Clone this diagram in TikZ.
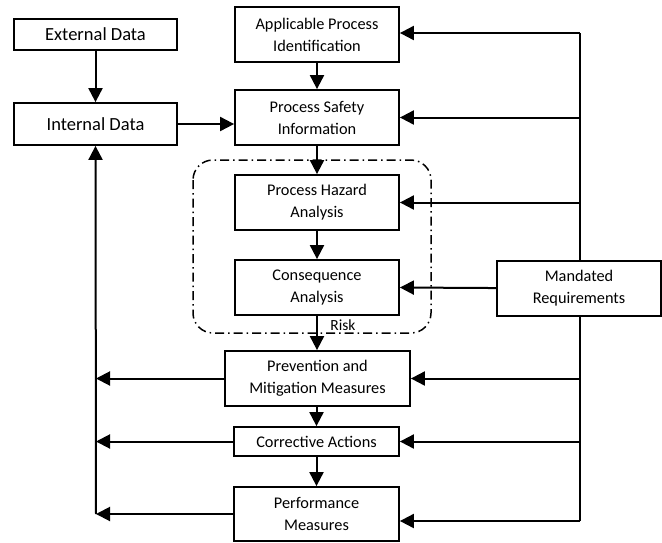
\documentclass[tikz,border=0pt]{standalone}
\usepackage{fontspec}
\setmainfont{Carlito}
\usetikzlibrary{arrows.meta,calc,positioning}

\begin{document}
\begin{tikzpicture}[
      x=1pt, y=-1pt,
      box/.style={draw, line width=1.8pt, align=center, inner sep=0pt, font=\fontsize{16.3}{22}\selectfont},
      bigbox/.style={box, font=\fontsize{18.5}{22}\selectfont},
      link/.style={line width=2pt, -{Triangle[length=14pt,width=14pt]}},
      line/.style={line width=2pt}
    ]
      \useasboundingbox (0,0) rectangle (662,542);

      % Data boxes on the left
      \node[bigbox, minimum width=163pt, minimum height=31pt] (ext) at (95.5, 34.5) {External Data};
      \node[bigbox, minimum width=163pt, minimum height=42pt] (int) at (95.5, 124) {Internal Data};

      % Main column
      \node[box, minimum width=164pt, minimum height=55pt] (api) at (317, 34.5) {Applicable Process\\Identification};
      \node[box, minimum width=164pt, minimum height=55pt] (psi) at (317, 117.5) {Process Safety\\Information};
      \node[box, minimum width=164pt, minimum height=55pt] (pha) at (317, 202.5) {Process Hazard\\Analysis};
      \node[box, minimum width=164pt, minimum height=55pt] (ca) at (317, 287.5) {Consequence\\Analysis};
      \node[box, minimum width=185pt, minimum height=55pt] (pmm) at (317.5, 378.5) {Prevention and\\Mitigation Measures};
      \node[box, minimum width=165pt, minimum height=29pt] (corr) at (316.5, 441.5) {Corrective Actions};
      \node[box, minimum width=165pt, minimum height=54pt] (perf) at (316.5, 514) {Performance\\Measures};

      % Mandated requirements on the right
      \coordinate (rtop) at (580, 33);
      \coordinate (rbot) at (580, 521);
      \draw[line] (rtop) -- (rbot);
      \node[box, fill=white, minimum width=164pt, minimum height=55pt] (mand) at (579, 288.5) {Mandated\\Requirements};

      % Risk envelope
      \draw[line width=1.5pt, rounded corners=20pt, dash pattern=on 9pt off 4pt on 1.5pt off 4pt]
        (193, 160) rectangle (431, 333);
      \node[font=\fontsize{15.5}{17}\selectfont, inner sep=1pt] (risk) at (343, 325) {Risk};

      % Downward flow
      \draw[link] (ext) -- (int);
      \draw[link] (api) -- (psi);
      \draw[link] (psi) -- (pha);
      \draw[link] (pha) -- (ca);
      \draw[link] (ca) -- (ca |- pmm.north);
      \draw[link] (pmm.south -| corr) -- (corr);
      \draw[link] (corr) -- (perf);
      \draw[link] (int) -- (int -| psi.west);

      % Requirements feeding each step
      \draw[link] (rtop) -- (rtop -| api.east);
      \draw[link] (psi.east -| rtop) -- (psi.east);
      \draw[link] (pha.east -| rtop) -- (pha.east);
      \draw[link] (mand) -- (ca.east);
      \draw[link] (pmm.east -| rtop) -- (pmm.east);
      \draw[link] (corr.east -| rtop) -- (corr.east);
      \draw[link] (rbot) -- (rbot -| perf.east);

      % Feedback to internal data
      \coordinate (lbot) at (96, 514);
      \draw[link] (lbot) -- (int.south);
      \draw[link] (pmm.west) -- (pmm.west -| lbot);
      \draw[link] (corr.west) -- (corr.west -| lbot);
      \draw[link] (perf.west) -- (lbot);
    \end{tikzpicture}
\end{document}
